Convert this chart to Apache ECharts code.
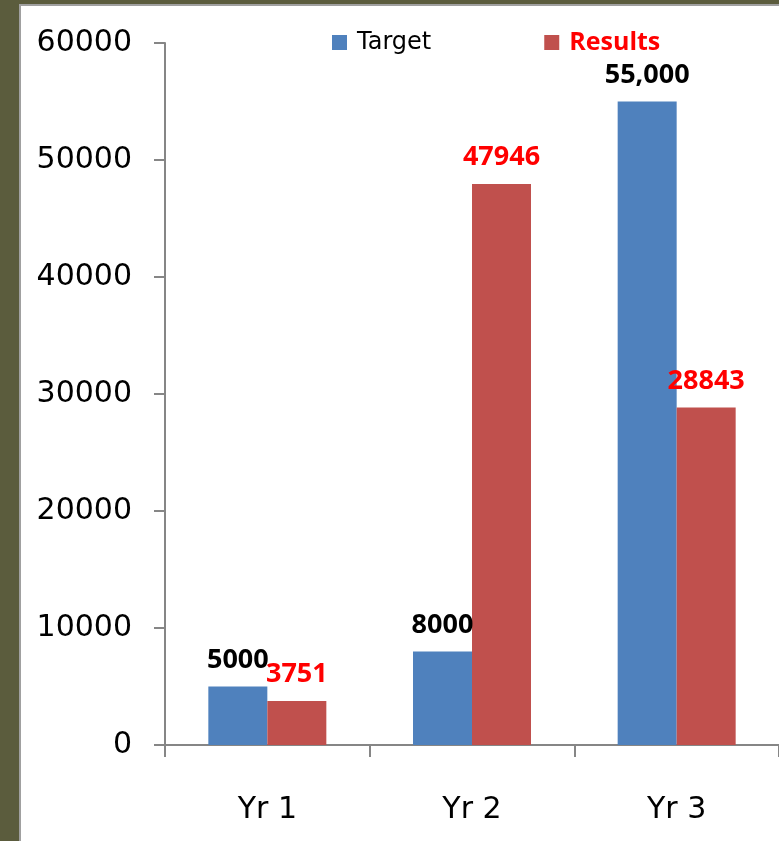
<!DOCTYPE html>
<html>
<head>
<meta charset="utf-8">
<script src="https://cdn.jsdelivr.net/npm/echarts@6/dist/echarts.min.js"></script>
<style>
html,body{margin:0;padding:0;background:#fff;}
#chart{width:779px;height:841px;}
</style>
</head>
<body>
<div id="chart"></div>
<script>
const categories = ['Yr 1', 'Yr 2', 'Yr 3'];
const targetValues = [5000, 8000, 55000];
const resultValues = [3751, 47946, 28843];
const targetLabels = ['5000', '8000', '55,000'];
const resultLabels = ['3751', '47946', '28843'];
const yTicks = [0, 10000, 20000, 30000, 40000, 50000, 60000];

const chart = echarts.init(document.getElementById('chart'), null, {renderer: 'canvas'});
const boldLabel = {fontFamily: 'Open Sans', fontWeight: 'bold', fontSize: 27};

chart.setOption({
  animation: false,
  backgroundColor: '#ffffff',
  graphic: [
    {type: 'rect', shape: {x: 0, y: 0, width: 19, height: 841}, style: {fill: '#5b5c3d'}, z: 100},
    {type: 'rect', shape: {x: 0, y: 0, width: 779, height: 4}, style: {fill: '#5b5c3d'}, z: 100},
    {type: 'rect', shape: {x: 19, y: 4, width: 2, height: 837}, style: {fill: '#a0a0a0'}, z: 100},
    {type: 'rect', shape: {x: 19, y: 4, width: 760, height: 2}, style: {fill: '#a0a0a0'}, z: 100}
  ],
  legend: {
    top: 25,
    left: 327,
    itemWidth: 15,
    itemHeight: 15,
    itemGap: 113,
    icon: 'rect',
    data: [
      {name: 'Target', textStyle: {fontFamily: 'DejaVu Sans', fontSize: 24, color: '#000', padding: [0, 0, 0, 5]}},
      {name: 'Results', textStyle: {fontFamily: 'Open Sans', fontWeight: 'bold', fontSize: 25, color: '#ff0000', padding: [0, 0, 0, 5]}}
    ]
  },
  grid: {left: 165, top: 43, width: 618, height: 702, containLabel: false},
  xAxis: {
    type: 'category',
    data: categories,
    boundaryGap: true,
    axisLine: {show: true, lineStyle: {color: '#868686', width: 2}},
    axisTick: {show: true, alignWithLabel: false, length: 12, lineStyle: {color: '#868686', width: 2}},
    axisLabel: {fontFamily: 'DejaVu Sans', fontSize: 30, color: '#000', margin: 50},
    splitLine: {show: false}
  },
  yAxis: {
    type: 'value',
    min: yTicks[0],
    max: yTicks[yTicks.length - 1],
    interval: yTicks[1] - yTicks[0],
    axisLine: {show: true, lineStyle: {color: '#868686', width: 2}},
    axisTick: {show: true, length: 11, lineStyle: {color: '#868686', width: 2}},
    axisLabel: {fontFamily: 'DejaVu Sans', fontSize: 30, color: '#000', margin: 33, formatter: v => String(v)},
    splitLine: {show: false}
  },
  series: [
    {
      name: 'Target',
      type: 'bar',
      data: targetValues,
      barWidth: 59,
      barGap: '0%',
      itemStyle: {color: '#4f81bd'},
      label: {
        show: true, position: 'top', distance: 13,
        formatter: p => targetLabels[p.dataIndex],
        color: '#000', ...boldLabel
      }
    },
    {
      name: 'Results',
      type: 'bar',
      data: resultValues,
      barWidth: 59,
      barGap: '0%',
      itemStyle: {color: '#c0504d'},
      label: {
        show: true, position: 'top', distance: 13,
        formatter: p => resultLabels[p.dataIndex],
        color: '#ff0000', ...boldLabel
      }
    }
  ]
});
</script>
</body>
</html>
